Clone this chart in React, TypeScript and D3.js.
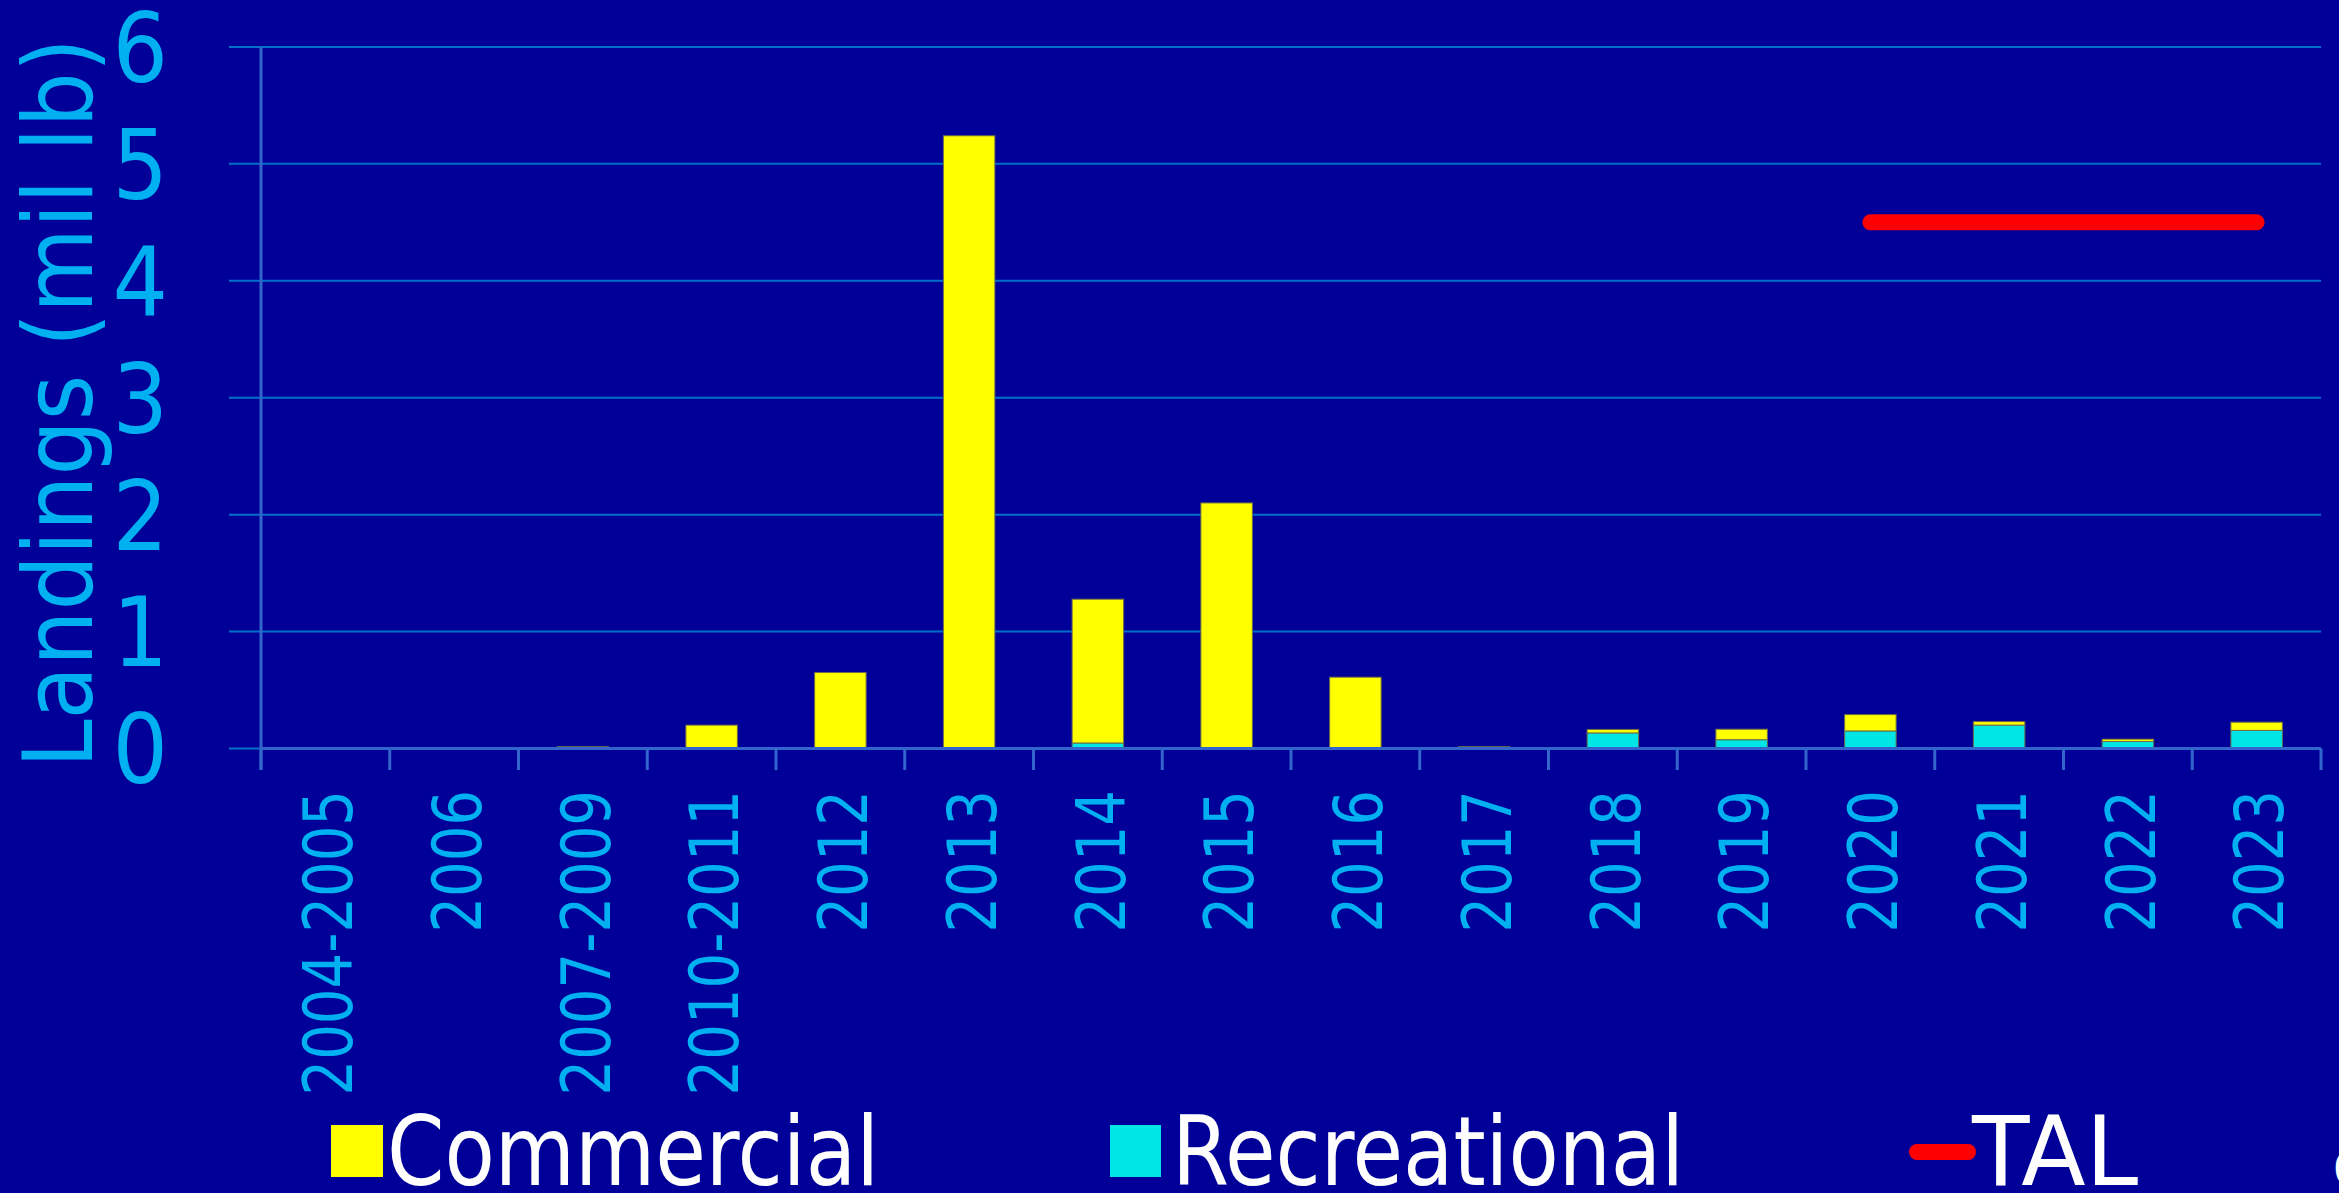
import { useEffect } from 'react'
import * as d3 from 'd3'

const categories = [
  '2004-2005', '2006', '2007-2009', '2010-2011', '2012', '2013', '2014', '2015',
  '2016', '2017', '2018', '2019', '2020', '2021', '2022', '2023',
]
const commercial = [0, 0, 0.015, 0.2, 0.65, 5.24, 1.23, 2.1, 0.61, 0.015, 0.03, 0.09, 0.14, 0.03, 0.02, 0.07]
const recreational = [0, 0, 0, 0, 0, 0, 0.047, 0, 0, 0, 0.133, 0.075, 0.15, 0.2, 0.06, 0.155]
const tal: (number | null)[] = [null, null, null, null, null, null, null, null, null, null, null, null, 4.5, 4.5, 4.5, 4.5]
const yTicks = [0, 1, 2, 3, 4, 5, 6]

const W = 2339
const H = 1193
const FONT = "'DejaVu Sans Condensed', 'DejaVu Sans', sans-serif"

const colors = {
  bg: '#000099',
  commercial: '#FFFF00',
  recreational: '#00E6E6',
  tal: '#FF0000',
  grid: '#0070C8',
  axis: '#3366CC',
  label: '#00B0F0',
  legend: '#FFFFFF',
}

export default function App() {
  useEffect(() => {
    document.body.style.margin = '0'
    document.body.style.background = colors.bg
  }, [])

  const x = d3.scaleBand<string>().domain(categories).range([261, 2321]).padding(0)
  const y = d3.scaleLinear().domain([0, 6]).range([748.5, 46.9])
  const barW = x.bandwidth() * 0.4

  const rows = categories.map((c, i) => ({ cat: c, recreational: recreational[i], commercial: commercial[i] }))
  const stacked = d3.stack<any>().keys(['recreational', 'commercial'])(rows)

  const talLine = d3
    .line<number | null>()
    .defined((d) => d != null)
    .x((_, i) => x(categories[i])! + x.bandwidth() / 2)
    .y((d) => y(d as number))

  const tickXs = [...categories.map((c) => x(c)!), x.range()[1]]

  return (
    <svg width={W} height={H} style={{ display: 'block', fontFamily: FONT, fontStretch: 'condensed' }}>
      <rect width={W} height={H} fill={colors.bg} />

      {/* gridlines */}
      {yTicks.map((t) => (
        <line key={t} x1={229} x2={2321} y1={y(t)} y2={y(t)} stroke={colors.grid} strokeWidth={2} />
      ))}

      {/* y tick labels */}
      {yTicks.map((t) => (
        <text key={t} x={168} y={y(t)} dy="0.36em" textAnchor="end" fontSize={97} fill={colors.label}>
          {t}
        </text>
      ))}

      <text
        transform={`translate(92,403) rotate(-90)`}
        textAnchor="middle"
        fontSize={97}
        fill={colors.label}
      >
        Landings (mil lb)
      </text>

      {/* bars */}
      {stacked.map((s) => (
        <g key={s.key} fill={s.key === 'commercial' ? colors.commercial : colors.recreational}>
          {s.map((d, i) =>
            d[1] - d[0] > 0 ? (
              <rect
                key={i}
                x={x(categories[i])! + (x.bandwidth() - barW) / 2}
                y={y(d[1])}
                width={barW}
                height={y(d[0]) - y(d[1])}
                stroke="#6b6b4a"
                strokeWidth={1}
              />
            ) : null
          )}
        </g>
      ))}

      {/* axes */}
      <line x1={261} x2={2321} y1={y(0)} y2={y(0)} stroke={colors.axis} strokeWidth={3} />
      <line x1={261} x2={261} y1={y(6)} y2={770} stroke={colors.axis} strokeWidth={3} />
      {tickXs.map((tx, i) => (
        <line key={i} x1={tx} x2={tx} y1={y(0)} y2={770} stroke={colors.axis} strokeWidth={3} />
      ))}

      {/* x labels */}
      {categories.map((c) => (
        <text
          key={c}
          transform={`translate(${x(c)! + x.bandwidth() / 2},790) rotate(-90) scale(0.93,1)`}
          dy="0.4em"
          textAnchor="end"
          fontSize={67}
          fill={colors.label}
        >
          {c}
        </text>
      ))}

      {/* TAL line */}
      <path d={talLine(tal) ?? ''} fill="none" stroke={colors.tal} strokeWidth={16} strokeLinecap="round" />

      {/* legend */}
      <rect x={331} y={1125} width={52} height={52} fill={colors.commercial} />
      <text x={387} y={1185} fontSize={96} fill={colors.legend} textLength={492} lengthAdjust="spacingAndGlyphs">
        Commercial
      </text>
      <rect x={1110} y={1125} width={51} height={52} fill={colors.recreational} />
      <text x={1172} y={1185} fontSize={96} fill={colors.legend} textLength={512} lengthAdjust="spacingAndGlyphs">
        Recreational
      </text>
      <line x1={1917} x2={1968} y1={1152} y2={1152} stroke={colors.tal} strokeWidth={16} strokeLinecap="round" />
      <text x={1972} y={1185} fontSize={96} fill={colors.legend} textLength={166} lengthAdjust="spacingAndGlyphs">
        TAL
      </text>
      <text x={2333} y={1183} fontSize={43} fill={colors.legend}>6</text>
    </svg>
  )
}
